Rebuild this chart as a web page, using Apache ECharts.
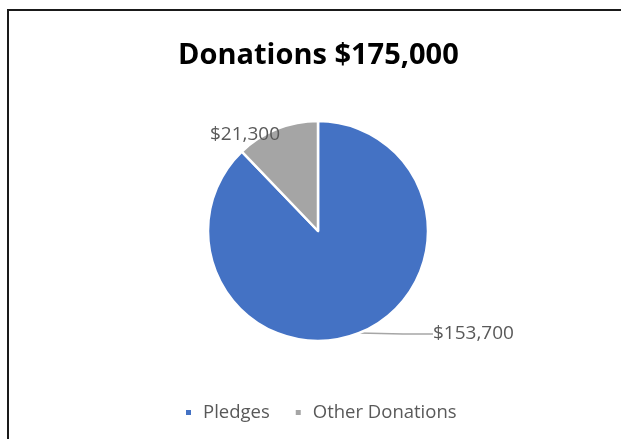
<!DOCTYPE html>
<html>
<head>
<meta charset="utf-8">
<script src="https://cdn.jsdelivr.net/npm/echarts@6/dist/echarts.min.js"></script>
<style>
  html, body { margin: 0; padding: 0; background: #fff; }
  #chart { width: 621px; height: 439px; }
</style>
</head>
<body>
<div id="chart"></div>
<script>
// data
const categories = ['Pledges', 'Other Donations'];
const values = [153700, 21300];
const colors = ['#4472C4', '#A5A5A5'];
const titleText = 'Donations $175,000';

const font = '"Open Sans", "Liberation Sans", sans-serif';
const chart = echarts.init(document.getElementById('chart'));

const option = {
  animation: false,
  title: {
    text: titleText,
    left: 173,
    top: 36,
    textStyle: { fontFamily: font, fontSize: 29, fontWeight: 'bold', color: '#000' }
  },
  graphic: [{
    type: 'rect',
    shape: { x: 8, y: 10, width: 640, height: 460 },
    style: { fill: 'none', stroke: '#1a1a1a', lineWidth: 2 },
    silent: true
  }],
  legend: {
    top: 398,
    left: 179,
    itemWidth: 7,
    itemHeight: 7,
    itemGap: 24,
    icon: 'rect',
    textStyle: { fontFamily: font, fontSize: 18.5, color: '#595959', padding: [0, 0, 0, 6] },
    data: categories
  },
  series: [{
    type: 'pie',
    center: [318, 231],
    radius: [0, 110],
    startAngle: 90,
    clockwise: true,
    itemStyle: { borderColor: '#fff', borderWidth: 2.5 },
    label: {
      show: true,
      fontFamily: font,
      fontSize: 19,
      color: '#595959',
      formatter: p => '$' + p.value.toLocaleString('en-US')
    },
    labelLine: { show: true, lineStyle: { color: '#A6A6A6', width: 1.5 }, smooth: false },
    labelLayout: function (p) {
      if (p.dataIndex === 0) {
        return { x: 433, y: 334, align: 'left', verticalAlign: 'middle' };
      }
      return { x: 245, y: 135, align: 'center', verticalAlign: 'middle' };
    },
    data: categories.map((name, i) => ({
      name: name,
      value: values[i],
      itemStyle: { color: colors[i] },
      labelLine: { show: i === 0 }
    }))
  }]
};

chart.setOption(option);
</script>
</body>
</html>
